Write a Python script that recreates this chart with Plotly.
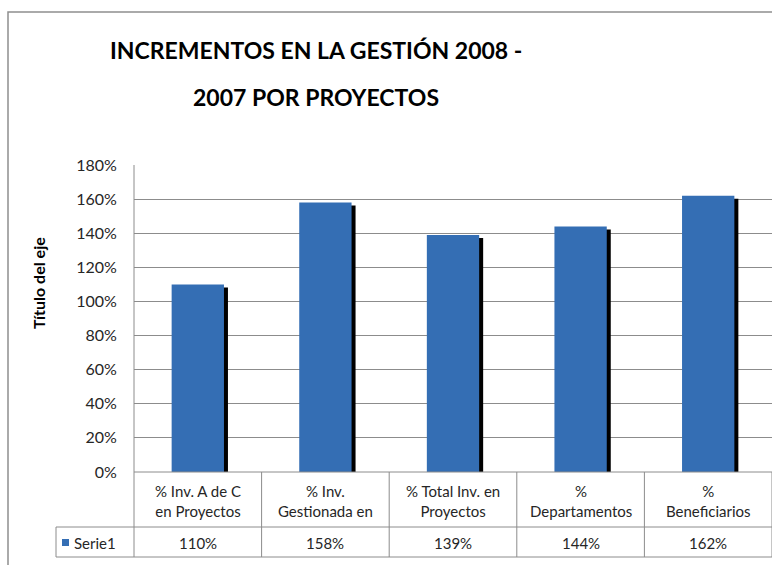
import plotly.graph_objects as go

categories = ["% Inv. A de C<br>en Proyectos", "% Inv.<br>Gestionada en", "% Total Inv. en<br>Proyectos",
              "%<br>Departamentos", "%<br>Beneficiarios"]
values = [1.10, 1.58, 1.39, 1.44, 1.62]
value_labels = ["110%", "158%", "139%", "144%", "162%"]
series_name = "Serie1"
y_ticks = [0, 0.2, 0.4, 0.6, 0.8, 1.0, 1.2, 1.4, 1.6, 1.8]
title_lines = ["INCREMENTOS EN LA GESTIÓN 2008 -", "2007 POR PROYECTOS"]
axis_title = "Título del eje"

W, H = 772, 565
L, R, T, B = 134, 772, 165, 472
FONT = "Lato, Liberation Sans, sans-serif"
GRID = "#8c8c8c"
BAR = "#346eb4"
TXT = "#262626"


def px_x(x):
    return (x - L) / (R - L)


def px_y(y):
    return (B - y) / (B - T)


unit_px = (B - T) / 1.8  # pixels per 100%
shadow_drop = 3 / unit_px
bar_w = 0.41
shadow_dx = 4 / ((R - L) / len(categories))

fig = go.Figure()
# drop shadow
fig.add_trace(go.Bar(x=categories, y=[v - shadow_drop for v in values], width=bar_w,
                     offset=-bar_w / 2 + shadow_dx, marker=dict(color="black", line=dict(width=0)),
                     hoverinfo="skip", showlegend=False))
fig.add_trace(go.Bar(x=categories, y=values, width=bar_w, offset=-bar_w / 2, name=series_name,
                     marker=dict(color=BAR, line=dict(width=0)), showlegend=False))

shapes = []
annotations = []


def note(x, y, text, size, xref="paper", xanchor="center", **kw):
    annotations.append(dict(x=x, y=y, xref=xref, yref="paper", text=text, showarrow=False,
                            xanchor=xanchor, yanchor="middle",
                            font=dict(family=FONT, size=size, color=kw.pop("color", TXT)), **kw))


# outer chart border
shapes.append(dict(type="rect", xref="paper", yref="paper", x0=px_x(8), x1=px_x(800),
                   y0=px_y(12), y1=px_y(600), line=dict(color="#8f8f8f", width=1.5)))

# data table
row1, row2 = 527, 557
n = len(categories)
for yy, x_start in [(B, L), (row1, 56), (row2, 56)]:
    shapes.append(dict(type="line", xref="paper", yref="paper", x0=px_x(x_start), x1=1,
                       y0=px_y(yy), y1=px_y(yy), line=dict(color=GRID, width=1)))
shapes.append(dict(type="line", xref="paper", yref="paper", x0=0, x1=0, y0=1, y1=px_y(row2),
                   line=dict(color=GRID, width=1)))
shapes.append(dict(type="line", xref="paper", yref="paper", x0=px_x(56), x1=px_x(56),
                   y0=px_y(row1), y1=px_y(row2), line=dict(color=GRID, width=1)))
for i in range(n):
    shapes.append(dict(type="line", xref="x", yref="paper", x0=i + 0.5, x1=i + 0.5,
                       y0=0, y1=px_y(row2), line=dict(color=GRID, width=1)))
    note(i, px_y((B + row1) / 2 + 1), categories[i], 15, xref="x", align="center")
    note(i, px_y((row1 + row2) / 2 + 1), value_labels[i], 15, xref="x")

# legend key in table
shapes.append(dict(type="rect", xref="paper", yref="paper", x0=px_x(62), x1=px_x(69),
                   y0=px_y(539), y1=px_y(546), line=dict(width=0), fillcolor=BAR))
note(px_x(72), px_y((row1 + row2) / 2 + 1), series_name, 15, xanchor="left")

# title
for line, yy in zip(title_lines, [50, 97]):
    note(px_x(316), px_y(yy), "<b>%s</b>" % line, 23, color="black")

# axis title
note(px_x(38), px_y(283), "<b>%s</b>" % axis_title, 16, textangle=-90, color="black")

fig.update_layout(
    width=W, height=H, margin=dict(l=L, r=W - R, t=T, b=H - B),
    paper_bgcolor="white", plot_bgcolor="white", barmode="overlay", showlegend=False,
    xaxis=dict(type="category", range=[-0.5, n - 0.5], showticklabels=False, showgrid=False,
               zeroline=False, fixedrange=True),
    yaxis=dict(range=[0, 1.8], tickvals=y_ticks, tickformat=".0%", showgrid=True, gridcolor=GRID,
               gridwidth=1, zeroline=False, ticks="outside", ticklen=13, tickcolor="rgba(0,0,0,0)",
               tickfont=dict(family=FONT, size=16, color=TXT), fixedrange=True),
    shapes=shapes, annotations=annotations,
)

fig.write_html("out.html", config=dict(displayModeBar=False),
               post_script="document.body.style.margin='0px';document.body.style.overflow='hidden';")
